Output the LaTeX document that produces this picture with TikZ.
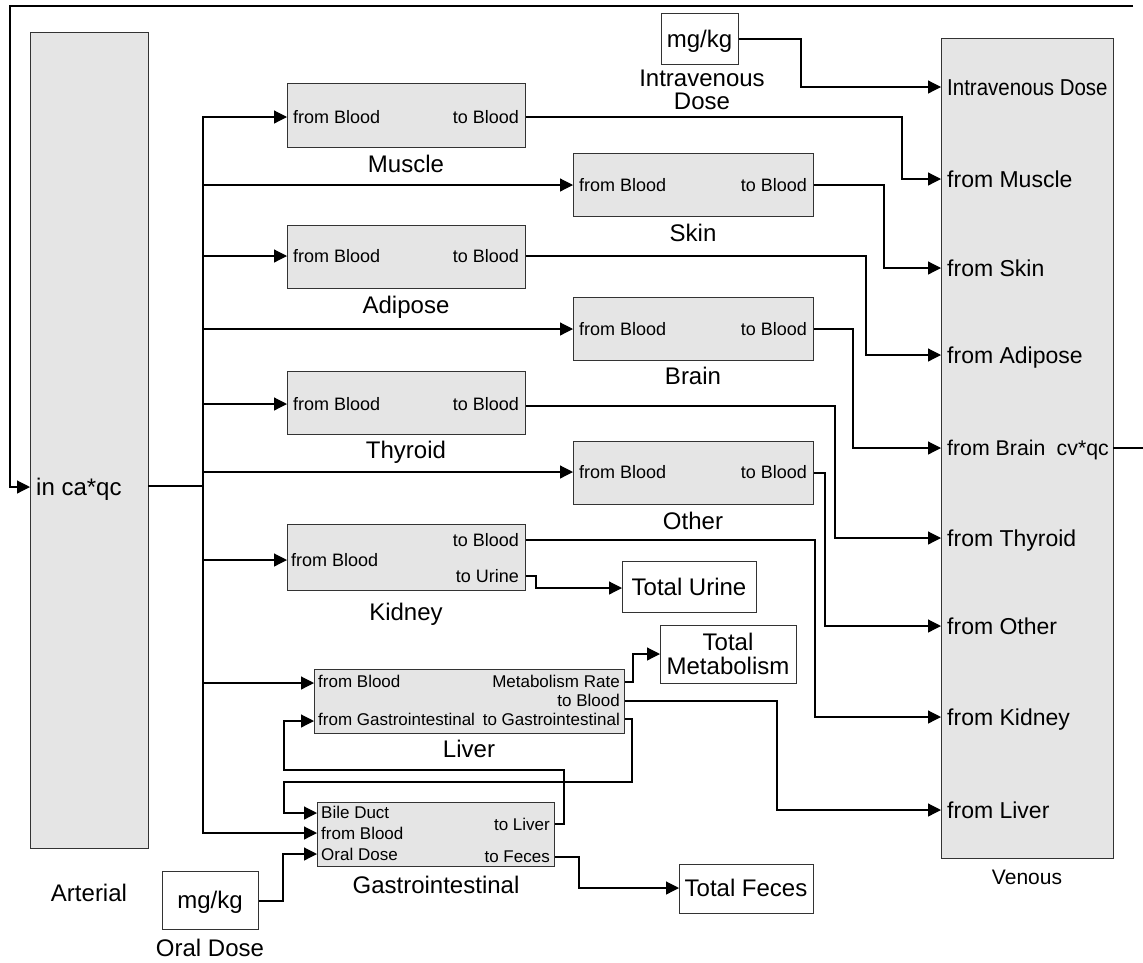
\documentclass[tikz,border=0pt]{standalone}
\usepackage{fontspec}
\setmainfont{Liberation Sans}
\usetikzlibrary{arrows.meta}
\newcommand\myportf{\fontsize{18}{20}\selectfont}
\newcommand\mylivf{\fontsize{17}{20}\selectfont}
\newcommand\mybigf{\fontsize{24}{27}\selectfont}
\newcommand\myvenf{\fontsize{23}{26}\selectfont}
\newcommand\myvensf{\fontsize{21.3}{24}\selectfont}
\newcommand\myvlblf{\fontsize{21}{24}\selectfont}
\definecolor{blkfill}{HTML}{E5E5E5}
\definecolor{blkline}{HTML}{333333}
\tikzset{
  blk/.style={draw=blkline, fill=blkfill, line width=1.4pt, anchor=north west, inner sep=0pt},
  wbox/.style={draw=blkline, fill=white, line width=1.4pt, anchor=north west, inner sep=0pt},
  txt/.style={inner sep=0pt, font=\myportf, text height=12.9pt, text depth=0pt},
  ltxt/.style={inner sep=0pt, font=\mylivf, text height=12.2pt, text depth=0pt},
  lbl/.style={inner sep=0pt, font=\mybigf, text height=17.2pt, text depth=0pt, anchor=center},
  vlbl/.style={inner sep=0pt, font=\myvlblf, text height=15pt, text depth=0pt, anchor=center},
  ven/.style={inner sep=0pt, font=\myvenf, text height=16.5pt, text depth=0pt, anchor=west},
  vens/.style={inner sep=0pt, font=\myvensf, text height=15.3pt, text depth=0pt, anchor=west},
  pl/.style={txt, anchor=west},
  pr/.style={txt, anchor=east},
  lpl/.style={ltxt, anchor=west},
  lpr/.style={ltxt, anchor=east},
  conn/.style={line width=1.2pt, draw=black},
  arr/.style={conn, -{Triangle[length=13pt,width=13pt]}},
}
\begin{document}
\begin{tikzpicture}[x=1pt,y=-1pt]
\useasboundingbox (0,0) rectangle (1143,962);
% big boxes
\node[blk, minimum width=118, minimum height=816] (art) at (30,32) {};
\node[blk, minimum width=172, minimum height=820] (ven) at (941,38) {};
\node[lbl] (artL) at (89,893) {Arterial};
\node[vlbl] (venL) at (1027,877) {Venous};
\node[lbl, anchor=west] (artIn) at (36,487) {in ca*qc};
% venous ports
\node[ven] (vIVt) at (947,87) {\scalebox{0.89}[1]{Intravenous Dose}};
\node[ven] (vMut) at (947,179) {from Muscle};
\node[ven] (vSkt) at (947,268) {from Skin};
\node[ven] (vAdt) at (947,355) {from Adipose};
\node[vens] (vBrt) at (947,448) {from Brain};
\node[vens, anchor=east] (vCvt) at (1109,448) {cv*qc};
\node[ven] (vTht) at (947,538) {from Thyroid};
\node[ven] (vOtt) at (947,626) {from Other};
\node[ven] (vKit) at (947,717) {from Kidney};
\node[ven] (vLit) at (947,810) {from Liver};
\coordinate (vIV) at (941,87);
\coordinate (vMu) at (941,179);
\coordinate (vSk) at (941,268);
\coordinate (vAd) at (941,355);
\coordinate (vBr) at (941,448);
\coordinate (vTh) at (941,538);
\coordinate (vOt) at (941,626);
\coordinate (vKi) at (941,717);
\coordinate (vLi) at (941,810);
\coordinate (vOut) at (1113,448);
\coordinate (vOutEnd) at (1143,448);
\coordinate (topR) at (1133,6);
\coordinate (arIn) at (30,487);
\coordinate (arOut) at (148,486);
% organ blocks
\node[blk, minimum width=238, minimum height=64] (mus) at (287,83) {};
\node[blk, minimum width=240, minimum height=63] (ski) at (573,153) {};
\node[blk, minimum width=238, minimum height=63] (adi) at (287,225) {};
\node[blk, minimum width=240, minimum height=63] (bra) at (573,297) {};
\node[blk, minimum width=238, minimum height=63] (thy) at (287,371) {};
\node[blk, minimum width=240, minimum height=63] (oth) at (573,441) {};
\node[blk, minimum width=238, minimum height=66] (kid) at (287,524) {};
\node[blk, minimum width=310, minimum height=64] (liv) at (314,669) {};
\node[blk, minimum width=237, minimum height=64] (gi) at (317,802) {};
% organ labels
\node[lbl] (musL) at (406,164) {Muscle};
\node[lbl] (skiL) at (693,233) {Skin};
\node[lbl] (adiL) at (406,305) {Adipose};
\node[lbl] (braL) at (693,376) {Brain};
\node[lbl] (thyL) at (406,450) {Thyroid};
\node[lbl] (othL) at (693,521) {Other};
\node[lbl] (kidL) at (406,612) {Kidney};
\node[lbl] (livL) at (469,749) {Liver};
\node[lbl] (giL) at (436,885) {Gastrointestinal};
% ports text
\node[pl] (musA) at (293,117) {from Blood};  \node[pr] (musB) at (519,117) {to Blood};
\node[pl] (skiA) at (579,185) {from Blood};  \node[pr] (skiB) at (807,185) {to Blood};
\node[pl] (adiA) at (293,256) {from Blood};  \node[pr] (adiB) at (519,256) {to Blood};
\node[pl] (braA) at (579,329) {from Blood};  \node[pr] (braB) at (807,329) {to Blood};
\node[pl] (thyA) at (293,404) {from Blood};  \node[pr] (thyB) at (519,404) {to Blood};
\node[pl] (othA) at (579,472) {from Blood};  \node[pr] (othB) at (807,472) {to Blood};
\node[pl] (kidA) at (291,560) {from Blood};  \node[pr] (kidB) at (519,540) {to Blood};
\node[pr] (kidC) at (519,576) {to Urine};
\node[lpl] (livA) at (318,681) {from Blood};
\node[lpr] (livB) at (620,681) {Metabolism Rate};
\node[lpr] (livC) at (620,700) {to Blood};
\node[lpl] (livD) at (318,719) {from Gastrointestinal};
\node[lpr] (livE) at (620,719) {to Gastrointestinal};
\node[lpl] (giA) at (321,812) {Bile Duct};
\node[lpl] (giB) at (321,833) {from Blood};
\node[lpl] (giC) at (321,854) {Oral Dose};
\node[lpr] (giD) at (550,824) {to Liver};
\node[lpr] (giE) at (550,856) {to Feces};
% white boxes
\node[wbox, minimum width=77, minimum height=51] (iv) at (661,13) {};
\node[lbl] (ivT) at (699.5,38.5) {mg/kg};
\node[lbl] (ivL1) at (702,78) {Intravenous};
\node[lbl] (ivL2) at (702,101) {Dose};
\node[wbox, minimum width=96, minimum height=58] (or) at (162,871) {};
\node[lbl] (orT) at (210,900) {mg/kg};
\node[lbl] (orL) at (210,948) {Oral Dose};
\node[wbox, minimum width=134, minimum height=51] (tu) at (622,561) {};
\node[lbl] (tuT) at (689,587) {Total Urine};
\node[wbox, minimum width=136, minimum height=58] (tm) at (660,625) {};
\node[lbl] (tmT1) at (728,642) {Total};
\node[lbl] (tmT2) at (728,666) {Metabolism};
\node[wbox, minimum width=134, minimum height=49] (tf) at (679,864) {};
\node[lbl] (tfT) at (746,888) {Total Feces};
% ---- connectors
% feedback loop
\draw[conn] (vOut) -- (vOutEnd);
\draw[arr] (topR) -- (10,6) |- (arIn);
% arterial bus
\draw[arr] (arOut) -- (203,486) |- (mus.west |- 0,117);
\draw[arr] (203,486) |- (gi.west |- 0,833);
\draw[arr] (203,185) -- (ski.west |- 0,185);
\draw[arr] (203,256) -- (adi.west |- 0,256);
\draw[arr] (203,329) -- (bra.west |- 0,329);
\draw[arr] (203,404) -- (thy.west |- 0,404);
\draw[arr] (203,472) -- (oth.west |- 0,472);
\draw[arr] (203,560) -- (kid.west |- 0,560);
\draw[arr] (203,683) -- (liv.west |- 0,683);
% to venous
\draw[arr] (iv.east |- 0,39) -- (801,39) |- (vIV);
\draw[arr] (mus.east |- 0,117) -- (902,117) |- (vMu);
\draw[arr] (ski.east |- 0,185) -- (884,185) |- (vSk);
\draw[arr] (adi.east |- 0,256) -- (866,256) |- (vAd);
\draw[arr] (bra.east |- 0,329) -- (853,329) |- (vBr);
\draw[arr] (thy.east |- 0,406) -- (835,406) |- (vTh);
\draw[arr] (oth.east |- 0,473) -- (825,473) |- (vOt);
\draw[arr] (kid.east |- 0,540) -- (815,540) |- (vKi);
\draw[arr] (liv.east |- 0,701) -- (777,701) |- (vLi);
% kidney urine
\draw[arr] (kid.east |- 0,576) -- (536,576) |- (tu.west |- 0,588);
% liver metabolism
\draw[arr] (liv.east |- 0,682) -- (633,682) |- (tm.west |- 0,654);
% liver <-> GI
\draw[arr] (liv.east |- 0,719) -- (632,719) -- (632,782) -- (284,782) |- (gi.west |- 0,813);
\draw[arr] (gi.east |- 0,824) -- (564,824) -- (564,770) -- (284,770) |- (liv.west |- 0,721);
% GI feces
\draw[arr] (gi.east |- 0,857) -- (579,857) |- (tf.west |- 0,888);
% oral dose
\draw[arr] (or.east |- 0,901) -- (283,901) |- (gi.west |- 0,854);
\end{tikzpicture}
\end{document}
